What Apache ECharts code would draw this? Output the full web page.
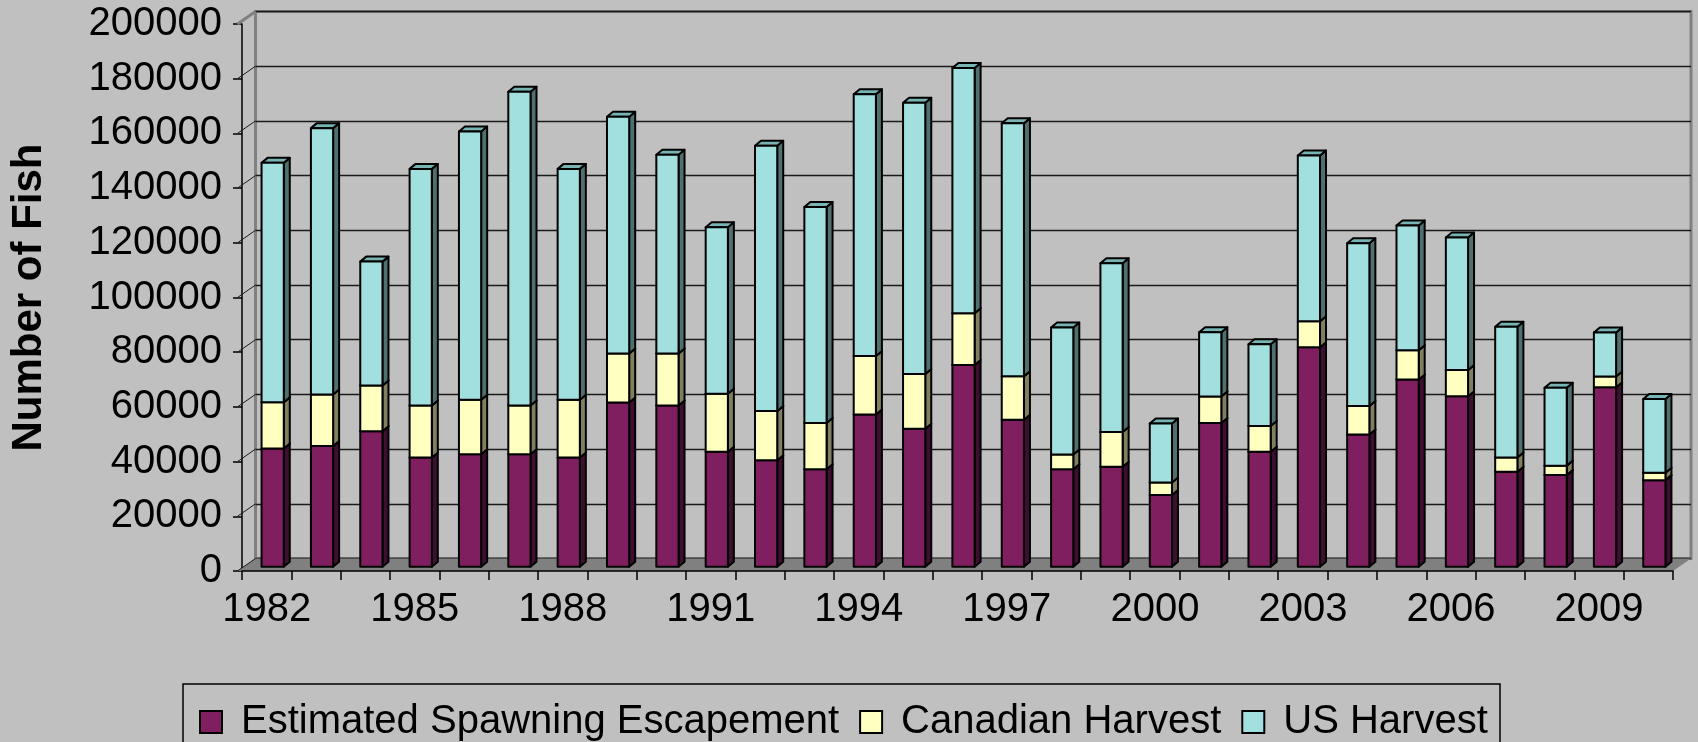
<!DOCTYPE html>
<html>
<head>
<meta charset="utf-8">
<script src="https://cdn.jsdelivr.net/npm/echarts@6/dist/echarts.min.js"></script>
<style>
  html, body { margin: 0; padding: 0; background: #c0c0c0; }
  #main { width: 1698px; height: 742px; }
</style>
</head>
<body>
<div id="main"></div>
<script>
// data
var years = ['1982', '1983', '1984', '1985', '1986', '1987', '1988', '1989', '1990', '1991',
  '1992', '1993', '1994', '1995', '1996', '1997', '1998', '1999', '2000', '2001',
  '2002', '2003', '2004', '2005', '2006', '2007', '2008', '2009', '2010']
var escapement = [43300, 44200, 49600, 40000, 41200, 41200, 40000, 60100, 59000, 42100,
  39000, 35700, 55700, 50500, 73800, 53800, 35700, 36600, 26300, 52600,
  42100, 80300, 48400, 68500, 62400, 34800, 33600, 65700, 31700]
var canadian = [16900, 18800, 16700, 19000, 19900, 17800, 21100, 17900, 19000, 21200,
  18000, 16900, 21400, 20000, 18900, 15900, 5400, 12700, 4500, 9700,
  9400, 9500, 10400, 10700, 9600, 5200, 3400, 3900, 2700]
var usHarvest = [87500, 97400, 45300, 86500, 98100, 114700, 84400, 86600, 72700, 60900,
  97000, 79000, 95700, 99200, 89700, 92500, 46400, 61700, 21600, 23500,
  29900, 60600, 59500, 45600, 48400, 47800, 28500, 16100, 27000]
var yMax = 200000
var yStep = 20000

// layout of the fake 3d box
var plotLeft = 237.5
var plotRight = 1673
var plotTop = 24
var plotBottom = 571
var depthX = 18
var depthY = -12.5
var fontFam = '"Liberation Sans", Arial, sans-serif'

var chart = echarts.init(document.getElementById('main'))

// build stacked [index, low, high] rows
function layer (vals, below) {
  var rows = []
  for (var i = 0; i < vals.length; i++) {
    var lo = 0
    for (var k = 0; k < below.length; k++) lo += below[k][i]
    rows.push([i, lo, lo + vals[i]])
  }
  return rows
}

// one 3d-ish bar piece: front face, right side, top cap
function makeBar (face, side, cap) {
  return function (params, api) {
    var i = api.value(0)
    var lo = api.coord([i, api.value(1)])
    var hi = api.coord([i, api.value(2)])
    var w = api.size([1, 0])[0] * 0.45
    var ox = depthX / 3
    var oy = depthY / 3
    var x0 = lo[0] - w / 2 + ox
    var x1 = x0 + w
    var yb = lo[1] + oy
    var yt = hi[1] + oy
    var dx = 6
    var dy = -5
    var st = { stroke: '#000', lineWidth: 2, lineJoin: 'round' }
    return {
      type: 'group',
      children: [
        { type: 'polygon', shape: { points: [[x1, yb], [x1 + dx, yb + dy], [x1 + dx, yt + dy], [x1, yt]] },
          style: Object.assign({ fill: side }, st) },
        { type: 'polygon', shape: { points: [[x0, yt], [x1, yt], [x1 + dx, yt + dy], [x0 + dx, yt + dy]] },
          style: Object.assign({ fill: cap }, st) },
        { type: 'rect', shape: { x: x0, y: yt, width: w, height: yb - yt },
          style: Object.assign({ fill: face }, st) }
      ]
    }
  }
}

var option = {
  backgroundColor: '#c0c0c0',
  animation: false,
  textStyle: { fontFamily: fontFam },
  grid: [
    { left: plotLeft, right: 1698 - plotRight, top: plotTop, bottom: 742 - plotBottom },
    // back wall
    { left: plotLeft + depthX, right: 1698 - plotRight - depthX, top: plotTop + depthY, bottom: 742 - plotBottom - depthY,
      show: true, borderColor: '#808080', borderWidth: 3, backgroundColor: 'transparent' }
  ],
  legend: {
    left: 194,
    top: 697,
    itemWidth: 22,
    itemHeight: 22,
    itemGap: 20,
    icon: 'rect',
    itemStyle: { borderColor: '#000', borderWidth: 2 },
    textStyle: { fontSize: 40, color: '#000', fontFamily: fontFam, padding: [0, 0, 0, 14] },
    data: ['Estimated Spawning Escapement', 'Canadian Harvest', 'US Harvest']
  },
  xAxis: [
    {
      type: 'category',
      gridIndex: 0,
      data: years,
      z: 3,
      axisLine: { lineStyle: { color: '#000', width: 1.5 } },
      axisTick: { show: true, interval: 0, length: 9, lineStyle: { color: '#000', width: 1.5 } },
      axisLabel: { interval: 2, fontSize: 40, color: '#000', margin: 19, fontFamily: fontFam },
      splitLine: { show: false }
    },
    { type: 'value', gridIndex: 1, show: false, min: 0, max: 1 }
  ],
  yAxis: [
    {
      type: 'value',
      gridIndex: 0,
      min: 0,
      max: yMax,
      interval: yStep,
      name: 'Number of Fish',
      nameLocation: 'middle',
      nameRotate: 90,
      nameGap: 192,
      nameTextStyle: { fontSize: 42, fontWeight: 'bold', color: '#000', fontFamily: fontFam },
      axisLine: { show: true, lineStyle: { color: '#000', width: 1.5 } },
      axisTick: { show: true, length: 9, lineStyle: { color: '#000', width: 1.5 } },
      axisLabel: {
        fontSize: 40, color: '#000', margin: 20, fontFamily: fontFam,
        formatter: function (v) { return String(v) }
      },
      splitLine: { show: false }
    },
    {
      type: 'value',
      gridIndex: 1,
      min: 0,
      max: yMax,
      interval: yStep,
      axisLine: { show: false },
      axisTick: { show: false },
      axisLabel: { show: false },
      splitLine: { show: true, lineStyle: { color: '#1a1a1a', width: 1.3 } }
    }
  ],
  series: [
    {
      name: 'Estimated Spawning Escapement',
      type: 'custom',
      xAxisIndex: 0,
      yAxisIndex: 0,
      itemStyle: { color: '#801f60' },
      encode: { x: 0, y: [1, 2] },
      renderItem: makeBar('#801f60', '#3e0f30', '#5a1545'),
      data: layer(escapement, [])
    },
    {
      name: 'Canadian Harvest',
      type: 'custom',
      xAxisIndex: 0,
      yAxisIndex: 0,
      itemStyle: { color: '#ffffc0' },
      encode: { x: 0, y: [1, 2] },
      renderItem: makeBar('#ffffc0', '#808060', '#c0c090'),
      data: layer(canadian, [escapement])
    },
    {
      name: 'US Harvest',
      type: 'custom',
      xAxisIndex: 0,
      yAxisIndex: 0,
      itemStyle: { color: '#a2e0e0' },
      encode: { x: 0, y: [1, 2] },
      renderItem: makeBar('#a2e0e0', '#507070', '#78b4b4'),
      data: layer(usHarvest, [escapement, canadian])
    }
  ]
}
chart.setOption(option)

// floor, left-wall tick connectors, legend box
var extras = []
extras.push({
  type: 'polygon',
  z: 1,
  shape: { points: [[plotLeft, plotBottom], [plotRight, plotBottom], [plotRight + depthX, plotBottom + depthY], [plotLeft + depthX, plotBottom + depthY]] },
  style: { fill: '#808080' }
})
for (var v = 0; v <= yMax; v += yStep) {
  var py = chart.convertToPixel({ yAxisIndex: 0 }, v)
  extras.push({
    type: 'line',
    z: 1,
    shape: { x1: plotLeft, y1: py, x2: plotLeft + depthX, y2: py + depthY },
    style: { stroke: v === yMax ? '#808080' : '#1a1a1a', lineWidth: v === yMax ? 3 : 1 }
  })
}
extras.push({
  type: 'rect',
  z: 1,
  shape: { x: 183, y: 684, width: 1317, height: 100 },
  style: { fill: 'none', stroke: '#000', lineWidth: 1.5 }
})
chart.setOption({ graphic: extras })
</script>
</body>
</html>
